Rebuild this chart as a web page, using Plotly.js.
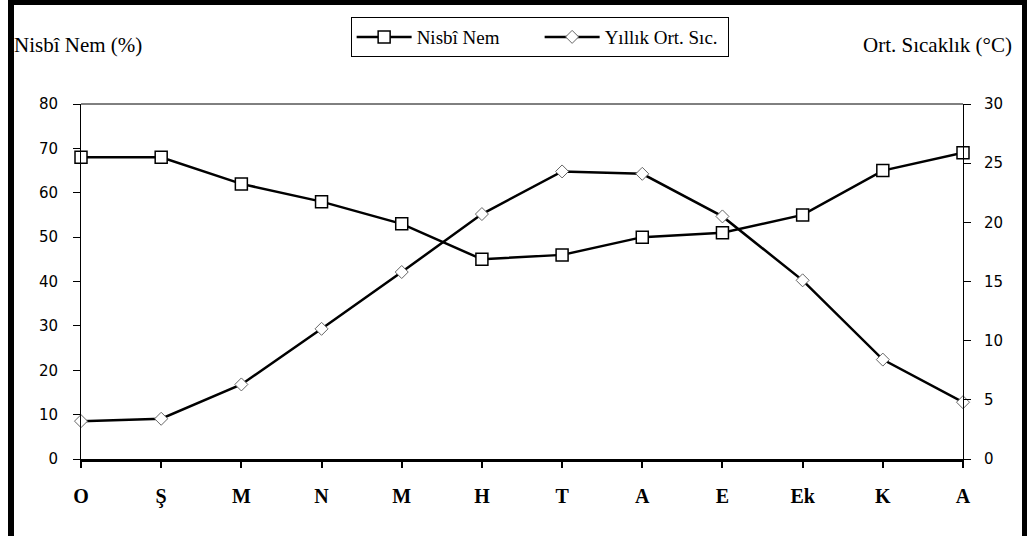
<!DOCTYPE html>
<html>
<head>
<meta charset="utf-8">
<script src="https://cdn.plot.ly/plotly-3.0.1.min.js"></script>
<style>
  html, body { margin: 0; padding: 0; background: #fff; }
  #wrap { position: relative; width: 1027px; height: 536px; overflow: hidden; }
  #chart { width: 1027px; height: 536px; }
  .bd { position: absolute; background: #000; z-index: 5; }
</style>
</head>
<body>
<div id="wrap">
  <div id="chart"></div>
  <div class="bd" style="left:8px; top:0; width:6px; height:536px;"></div>
  <div class="bd" style="left:8px; top:0; width:1019px; height:5px;"></div>
  <div class="bd" style="left:1022px; top:0; width:5px; height:536px;"></div>
</div>
<script>
const months = ["O", "Ş", "M", "N", "M", "H", "T", "A", "E", "Ek", "K", "A"];
const monthIndex = [0, 1, 2, 3, 4, 5, 6, 7, 8, 9, 10, 11];
const nisbiNem = [68, 68, 62, 58, 53, 45, 46, 50, 51, 55, 65, 69];
const ortSicaklik = [3.2, 3.4, 6.3, 11.0, 15.8, 20.7, 24.3, 24.1, 20.5, 15.1, 8.4, 4.8];

const serif = "Liberation Serif, Times New Roman, serif";
const sans = "DejaVu Sans, Verdana, sans-serif";

const traces = [
  {
    x: monthIndex, y: nisbiNem, name: "Nisbî Nem", type: "scatter", mode: "lines+markers",
    line: { color: "#000", width: 2.5 },
    marker: { symbol: "square", size: 12, color: "#fff", line: { color: "#000", width: 1.5 } },
    cliponaxis: false, yaxis: "y"
  },
  {
    x: monthIndex, y: ortSicaklik, name: "Yıllık Ort. Sıc.", type: "scatter", mode: "lines+markers",
    line: { color: "#000", width: 2.5 },
    marker: { symbol: "diamond", size: 10, color: "#fff", line: { color: "#666", width: 1 } },
    cliponaxis: false, yaxis: "y2"
  }
];

const layout = {
  width: 1027, height: 536,
  margin: { l: 81, r: 64, t: 104, b: 77, pad: 0 },
  paper_bgcolor: "#fff", plot_bgcolor: "#fff",
  showlegend: true,
  legend: {
    orientation: "h", x: 0.52, xanchor: "center", y: 1.245, yanchor: "top",
    bordercolor: "#000", borderwidth: 1, bgcolor: "#fff",
    font: { family: serif, size: 19, color: "#000" },
    itemwidth: 55, entrywidth: 118, tracegroupgap: 0
  },
  xaxis: {
    range: [0, 11], tickvals: monthIndex, ticktext: months,
    showline: true, linecolor: "#000", linewidth: 3,
    ticks: "outside", ticklen: 6, tickwidth: 2, tickcolor: "#000",
    showgrid: false, zeroline: false, fixedrange: true,
    ticklabelstandoff: 11,
    tickfont: { family: serif, size: 20, color: "#000", weight: "bold" }
  },
  yaxis: {
    range: [0, 80], dtick: 10, tick0: 0,
    showline: true, linecolor: "#000", linewidth: 1,
    ticks: "outside", ticklen: 7, tickwidth: 1, tickcolor: "#000",
    showgrid: false, zeroline: false,
    ticklabelstandoff: 12,
    tickfont: { family: sans, size: 15, color: "#000" }
  },
  yaxis2: {
    range: [0, 30], dtick: 5, tick0: 0, overlaying: "y", side: "right",
    showline: true, linecolor: "#000", linewidth: 1,
    ticks: "outside", ticklen: 7, tickwidth: 1, tickcolor: "#000",
    showgrid: false, zeroline: false,
    ticklabelstandoff: 10,
    tickfont: { family: sans, size: 15, color: "#000" }
  },
  shapes: [
    { type: "line", xref: "paper", yref: "paper", x0: 0, x1: 1, y0: 1, y1: 1,
      line: { color: "#000", width: 1 } }
  ],
  annotations: [
    { text: "Nisbî Nem (%)", xref: "paper", yref: "paper", x: -0.078, y: 1.166,
      xanchor: "left", yanchor: "middle", showarrow: false,
      font: { family: serif, size: 21, color: "#000" } },
    { text: "Ort. Sıcaklık (°C)", xref: "paper", yref: "paper", x: 1.058, y: 1.166,
      xanchor: "right", yanchor: "middle", showarrow: false,
      font: { family: serif, size: 21, color: "#000" } }
  ]
};

Plotly.newPlot("chart", traces, layout, { displayModeBar: false, staticPlot: true });
</script>
</body>
</html>
